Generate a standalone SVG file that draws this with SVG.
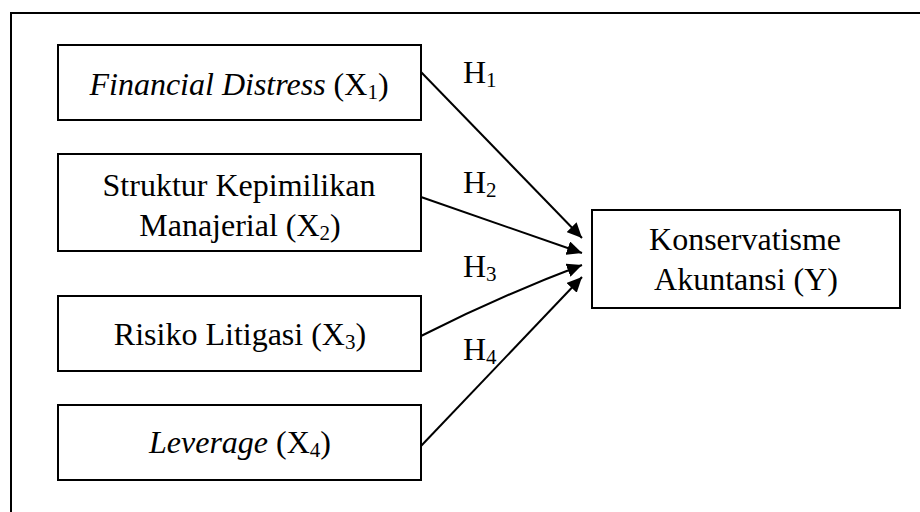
<svg xmlns="http://www.w3.org/2000/svg" width="920" height="512" viewBox="0 0 920 512">
<style>
.box{fill:#fff;stroke:#000;stroke-width:2}
.t{font-family:"Liberation Serif","Times New Roman",serif;font-size:32px;fill:#000;text-anchor:middle}
.l{text-anchor:start}
.i{font-style:italic}
.s{font-size:21px}
.c{fill:none;stroke:#000;stroke-width:2}
</style>
<defs>
<marker id="ah" markerUnits="userSpaceOnUse" markerWidth="16" markerHeight="14" refX="15" refY="7" orient="auto">
<path d="M0,0 L15,7 L0,14 z" fill="#000"/>
</marker>
</defs>
<rect x="0" y="0" width="920" height="512" fill="#fff"/>
<rect x="11" y="13" width="1000" height="600" fill="none" stroke="#000" stroke-width="2"/>
<g id="connectors">
<line class="c" x1="421" y1="72" x2="582" y2="238" marker-end="url(#ah)"/>
<line class="c" x1="421" y1="197" x2="582" y2="253" marker-end="url(#ah)"/>
<path class="c" d="M421,336 Q500,296 582,265" marker-end="url(#ah)"/>
<line class="c" x1="421" y1="446" x2="582" y2="277" marker-end="url(#ah)"/>
<text class="t l" x="463" y="83">H<tspan class="s" dy="4">1</tspan></text>
<text class="t l" x="463" y="193">H<tspan class="s" dy="4">2</tspan></text>
<text class="t l" x="463" y="277">H<tspan class="s" dy="4">3</tspan></text>
<text class="t l" x="463" y="360">H<tspan class="s" dy="4">4</tspan></text>
</g>
<g id="x1">
<rect class="box" x="58" y="45" width="363" height="75"/>
<text class="t" x="239" y="95"><tspan class="i">Financial Distress</tspan> (X<tspan class="s" dy="4">1</tspan><tspan dy="-4">)</tspan></text>
</g>
<g id="x2">
<rect class="box" x="58" y="154" width="363" height="97"/>
<text class="t" x="239" y="196">Struktur Kepimilikan</text>
<text class="t" x="240" y="236">Manajerial (X<tspan class="s" dy="4">2</tspan><tspan dy="-4">)</tspan></text>
</g>
<g id="x3">
<rect class="box" x="58" y="296" width="363" height="75"/>
<text class="t" x="240" y="345">Risiko Litigasi (X<tspan class="s" dy="4">3</tspan><tspan dy="-4">)</tspan></text>
</g>
<g id="x4">
<rect class="box" x="58" y="405" width="363" height="75"/>
<text class="t" x="240" y="453"><tspan class="i">Leverage</tspan> (X<tspan class="s" dy="4">4</tspan><tspan dy="-4">)</tspan></text>
</g>
<g id="y">
<rect class="box" x="592" y="210" width="308" height="98"/>
<text class="t" x="745" y="250">Konservatisme</text>
<text class="t" x="746" y="290">Akuntansi (Y)</text>
</g>
</svg>
